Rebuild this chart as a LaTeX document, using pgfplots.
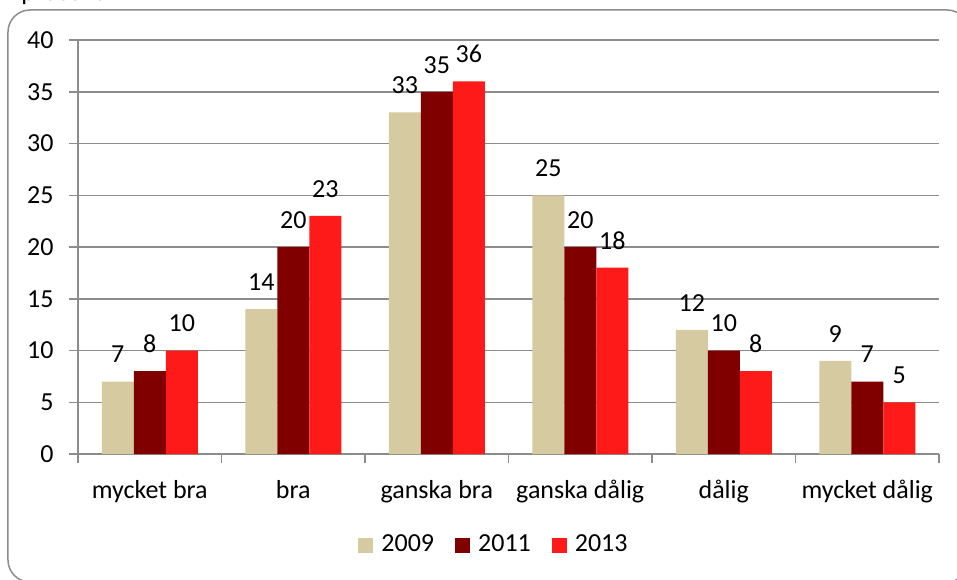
\documentclass[border=0pt]{standalone}
\usepackage{pgfplots}
\pgfplotsset{compat=1.18}
\usepackage{fontspec}
\setmainfont{Carlito}
\definecolor{ctan}{RGB}{214,202,160}
\definecolor{cdark}{RGB}{128,0,0}
\definecolor{cred}{RGB}{255,26,26}
\definecolor{cgrid}{RGB}{140,140,140}
\begin{document}
\fontsize{13pt}{15.6pt}\selectfont
\begin{tikzpicture}
\begin{axis}[
  at={(0pt,0pt)}, anchor=south west,
  width=430.5pt, height=207pt, scale only axis,
  xmin=0.5, xmax=6.5, ymin=0, ymax=40,
  ytick={0,5,...,40},
  xtick={0.5,1.5,...,6.5},
  x tick label as interval,
  xticklabels={mycket bra, bra, ganska bra, ganska dålig, dålig, mycket dålig},
  axis x line=bottom, axis y line=left,
  axis line style={cgrid, line width=0.75pt, -},
  ymajorgrids, grid style={cgrid, line width=0.75pt},
  tick align=outside, major tick length=4.5pt,
  tick style={cgrid, line width=0.75pt},
  /pgf/number format/assume math mode=true,
  xticklabel style={anchor=base, inner sep=0pt, yshift=-17.5pt},
  yticklabel style={anchor=east, inner sep=0pt, xshift=-7.5pt},
  ybar=0pt, bar width=16pt,
  nodes near coords,
  nodes near coords style={anchor=base, inner sep=0pt, yshift=9.3pt, text=black},
  legend columns=3,
  legend style={draw=none, fill=none, at={(0.482,-0.22)}, anchor=center,
    nodes={inner sep=0pt},
    /tikz/every odd column/.append style={column sep=4pt},
    /tikz/every even column/.append style={column sep=10.5pt}},
  legend image code/.code={\fill[#1] (0pt,-3.75pt) rectangle (7.5pt,3.75pt);},
]
\addplot[fill=ctan, draw=none] coordinates {(1,7) (2,14) (3,33) (4,25) (5,12) (6,9)};
\addplot[fill=cdark, draw=none] coordinates {(1,8) (2,20) (3,35) (4,20) (5,10) (6,7)};
\addplot[fill=cred, draw=none] coordinates {(1,10) (2,23) (3,36) (4,18) (5,8) (6,5)};
\legend{2009,2011,2013}
\end{axis}
\draw[cgrid, line width=0.75pt, rounded corners=11pt] (-35pt,222pt) rectangle (445.5pt,-64pt);
\node[anchor=base west, inner sep=0pt] at (-28.5pt,226.75pt) {procent};
\pgfresetboundingbox
\useasboundingbox (-39pt,-62.5pt) rectangle (439.5pt,227pt);
\end{tikzpicture}
\end{document}
